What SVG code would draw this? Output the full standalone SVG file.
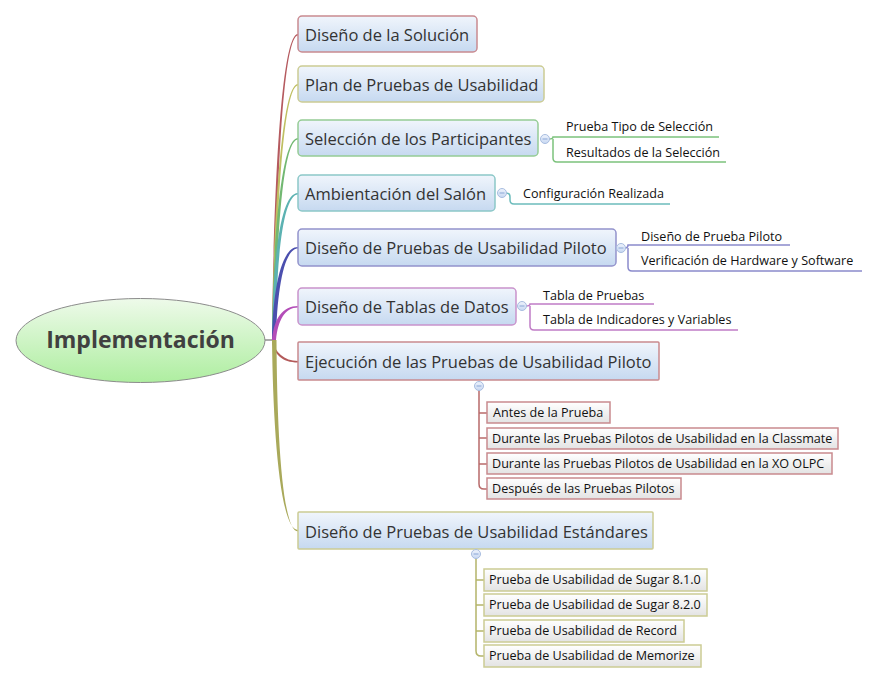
<svg xmlns="http://www.w3.org/2000/svg" width="877" height="683" viewBox="0 0 877 683">
<defs>
<linearGradient id="gC" x1="0" y1="0" x2="0" y2="1"><stop offset="0" stop-color="#eefaea"/><stop offset="1" stop-color="#aeeea0"/></linearGradient>
<linearGradient id="gM" x1="0" y1="0" x2="0" y2="1"><stop offset="0" stop-color="#f0f5fc"/><stop offset="1" stop-color="#c6d9f0"/></linearGradient>
<linearGradient id="gS" x1="0" y1="0" x2="0" y2="1"><stop offset="0" stop-color="#ffffff"/><stop offset="1" stop-color="#e3e3e3"/></linearGradient>
<linearGradient id="gK" x1="0" y1="0" x2="0" y2="1"><stop offset="0" stop-color="#eef3fc"/><stop offset="1" stop-color="#c8d8f2"/></linearGradient>
</defs>
<style>
.main{fill:url(#gM);stroke-width:1.5}
.sub{fill:url(#gS);stroke-width:1.5}
.tm{font-family:"Open Sans","Noto Sans","DejaVu Sans",sans-serif;font-size:16.5px;fill:#333}
.ts{font-family:"Open Sans","Noto Sans","DejaVu Sans",sans-serif;font-size:12.6px;fill:#111}
.lk{fill:none;stroke-width:1.5}
.col{fill:url(#gK);stroke:#a8bde0;stroke-width:1}
.minus{stroke:#8aa6d6;stroke-width:1}
</style>

<g id="connectors">
<line x1="264" y1="340" x2="275" y2="340" stroke="#aaaaaa" stroke-width="2"/>
<path d="M272,340 C273,230 279,34 298,34 L298,35.5 C281,35.5 275,230 276,340 Z" fill="#b55a5f"/>
<path d="M272,340 C273,240 280,84 298,84 L298,85.5 C282,85.5 275,240 276,340 Z" fill="#bfbf62"/>
<path d="M272,340 C273,250 280,138 298,138 L298,139.5 C282,139.5 276,250 276,340 Z" fill="#72b872"/>
<path d="M272,340 C273,260 280,193 298,193 L298,194.5 C283,194.5 276,260 276,340 Z" fill="#5cb2b2"/>
<path d="M272,340 C273,290 281,247 298,247 L298,248.5 C284,248.5 277,290 276,340 Z" fill="#4b4fae"/>
<path d="M272,340 C274,318 283,306 298,306 L298,307.5 C285,307.5 278,320 276,340 Z" fill="#b34db8"/>
<path d="M272,340 C275,352 284,361 298,361 L298,362.5 C282,362.5 274,354 272,342 Z" fill="#b35a5a"/>
<path d="M272,340 C273,430 280,530 298,530 L298,531.5 C282,531.5 277,430 276.5,340 Z" fill="#a9a95a"/>

<g stroke="#7cc27c" class="lk">
<path d="M549,139 Q553,139 553,137 L719,137"/>
<path d="M553,139 L553,158 Q553,162 557,162 L726,162"/>
</g>
<g stroke="#6cbcbc" class="lk">
<path d="M506,193 Q510,193 510,197 L510,200 Q510,204 514,204 L670,204"/>
</g>
<g stroke="#8a8acc" class="lk">
<path d="M625,248 Q628,248 628,245 L790,245"/>
<path d="M628,248 L628,267 Q628,271 632,271 L862,271"/>
</g>
<g stroke="#c07cc6" class="lk">
<path d="M526,306 Q530,306 530,304 L654,304"/>
<path d="M530,306 L530,326 Q530,330 534,330 L738,330"/>
</g>
<g stroke="#b86a6a" class="lk">
<path d="M479,390 L479,484 Q479,489 484,489 L487,489"/>
<path d="M479,413 L487,413"/>
<path d="M479,438 L487,438"/>
<path d="M479,464 L487,464"/>
</g>
<g stroke="#b4b46a" class="lk">
<path d="M476,558 L476,651 Q476,656 481,656 L484,656"/>
<path d="M476,580 L484,580"/>
<path d="M476,605 L484,605"/>
<path d="M476,631 L484,631"/>
</g>
</g>

<g id="central">
<ellipse cx="140.5" cy="340.5" rx="124.5" ry="42" fill="url(#gC)" stroke="#8c8c8c" stroke-width="1"/>
<text x="140.5" y="348" text-anchor="middle" style="font-family:'Open Sans','Noto Sans','DejaVu Sans',sans-serif;font-size:23px;font-weight:bold;fill:#404040">Implementación</text>
</g>

<g id="n1">
<rect class="main" x="298" y="16" width="179" height="36" rx="4" stroke="#c98a90"/>
<text class="tm" x="305" y="41">Diseño de la Solución</text>
</g>
<g id="n2">
<rect class="main" x="298" y="66" width="246" height="36" rx="4" stroke="#cccc94"/>
<text class="tm" x="305" y="91">Plan de Pruebas de Usabilidad</text>
</g>
<g id="n3">
<rect class="main" x="298" y="120" width="240" height="36" rx="4" stroke="#95cc95"/>
<text class="tm" x="305" y="145">Selección de los Participantes</text>
<circle class="col" cx="545" cy="139" r="4.5"/><line class="minus" x1="542.5" y1="139" x2="547.5" y2="139"/>
</g>
<g id="n3a"><text class="ts" x="566" y="131">Prueba Tipo de Selección</text></g>
<g id="n3b"><text class="ts" x="566" y="157">Resultados de la Selección</text></g>

<g id="n4">
<rect class="main" x="298" y="175" width="197" height="36" rx="4" stroke="#8cc8c8"/>
<text class="tm" x="305" y="200">Ambientación del Salón</text>
<circle class="col" cx="502" cy="193" r="4.5"/><line class="minus" x1="499.5" y1="193" x2="504.5" y2="193"/>
</g>
<g id="n4a"><text class="ts" x="523" y="198">Configuración Realizada</text></g>

<g id="n5">
<rect class="main" x="298" y="229" width="318" height="37" rx="4" stroke="#9393cc"/>
<text class="tm" x="305" y="254">Diseño de Pruebas de Usabilidad Piloto</text>
<circle class="col" cx="621" cy="248" r="4.5"/><line class="minus" x1="618.5" y1="248" x2="623.5" y2="248"/>
</g>
<g id="n5a"><text class="ts" x="641" y="241">Diseño de Prueba Piloto</text></g>
<g id="n5b"><text class="ts" x="641" y="265">Verificación de Hardware y Software</text></g>

<g id="n6">
<rect class="main" x="298" y="288" width="218" height="37" rx="4" stroke="#c993cc"/>
<text class="tm" x="305" y="313">Diseño de Tablas de Datos</text>
<circle class="col" cx="522" cy="306" r="4.5"/><line class="minus" x1="519.5" y1="306" x2="524.5" y2="306"/>
</g>
<g id="n6a"><text class="ts" x="543" y="300">Tabla de Pruebas</text></g>
<g id="n6b"><text class="ts" x="543" y="324">Tabla de Indicadores y Variables</text></g>

<g id="n7">
<rect class="main" x="298" y="342" width="361" height="38" rx="1" stroke="#c98a8e"/>
<text class="tm" x="305" y="368">Ejecución de las Pruebas de Usabilidad Piloto</text>
<circle class="col" cx="479" cy="386" r="4.5"/><line class="minus" x1="476.5" y1="386" x2="481.5" y2="386"/>
</g>
<g id="n7a"><rect class="sub" x="487" y="402" width="123" height="21" stroke="#c98a8e"/><text class="ts" x="493" y="417">Antes de la Prueba</text></g>
<g id="n7b"><rect class="sub" x="487" y="428" width="351" height="21" stroke="#c98a8e"/><text class="ts" x="492" y="443">Durante las Pruebas Pilotos de Usabilidad en la Classmate</text></g>
<g id="n7c"><rect class="sub" x="487" y="453" width="345" height="21" stroke="#c98a8e"/><text class="ts" x="492" y="468">Durante las Pruebas Pilotos de Usabilidad en la XO OLPC</text></g>
<g id="n7d"><rect class="sub" x="487" y="478" width="194" height="21" stroke="#c98a8e"/><text class="ts" x="492" y="493">Después de las Pruebas Pilotos</text></g>

<g id="n8">
<rect class="main" x="298" y="512" width="355" height="37" rx="1" stroke="#cccc94"/>
<text class="tm" x="305" y="538">Diseño de Pruebas de Usabilidad Estándares</text>
<circle class="col" cx="476" cy="554" r="4.5"/><line class="minus" x1="473.5" y1="554" x2="478.5" y2="554"/>
</g>
<g id="n8a"><rect class="sub" x="484" y="569" width="223" height="22" stroke="#cccc94"/><text class="ts" x="489" y="584">Prueba de Usabilidad de Sugar 8.1.0</text></g>
<g id="n8b"><rect class="sub" x="484" y="594" width="223" height="22" stroke="#cccc94"/><text class="ts" x="489" y="609">Prueba de Usabilidad de Sugar 8.2.0</text></g>
<g id="n8c"><rect class="sub" x="484" y="620" width="200" height="22" stroke="#cccc94"/><text class="ts" x="489" y="635">Prueba de Usabilidad de Record</text></g>
<g id="n8d"><rect class="sub" x="484" y="645" width="217" height="22" stroke="#cccc94"/><text class="ts" x="489" y="660">Prueba de Usabilidad de Memorize</text></g>
</svg>
